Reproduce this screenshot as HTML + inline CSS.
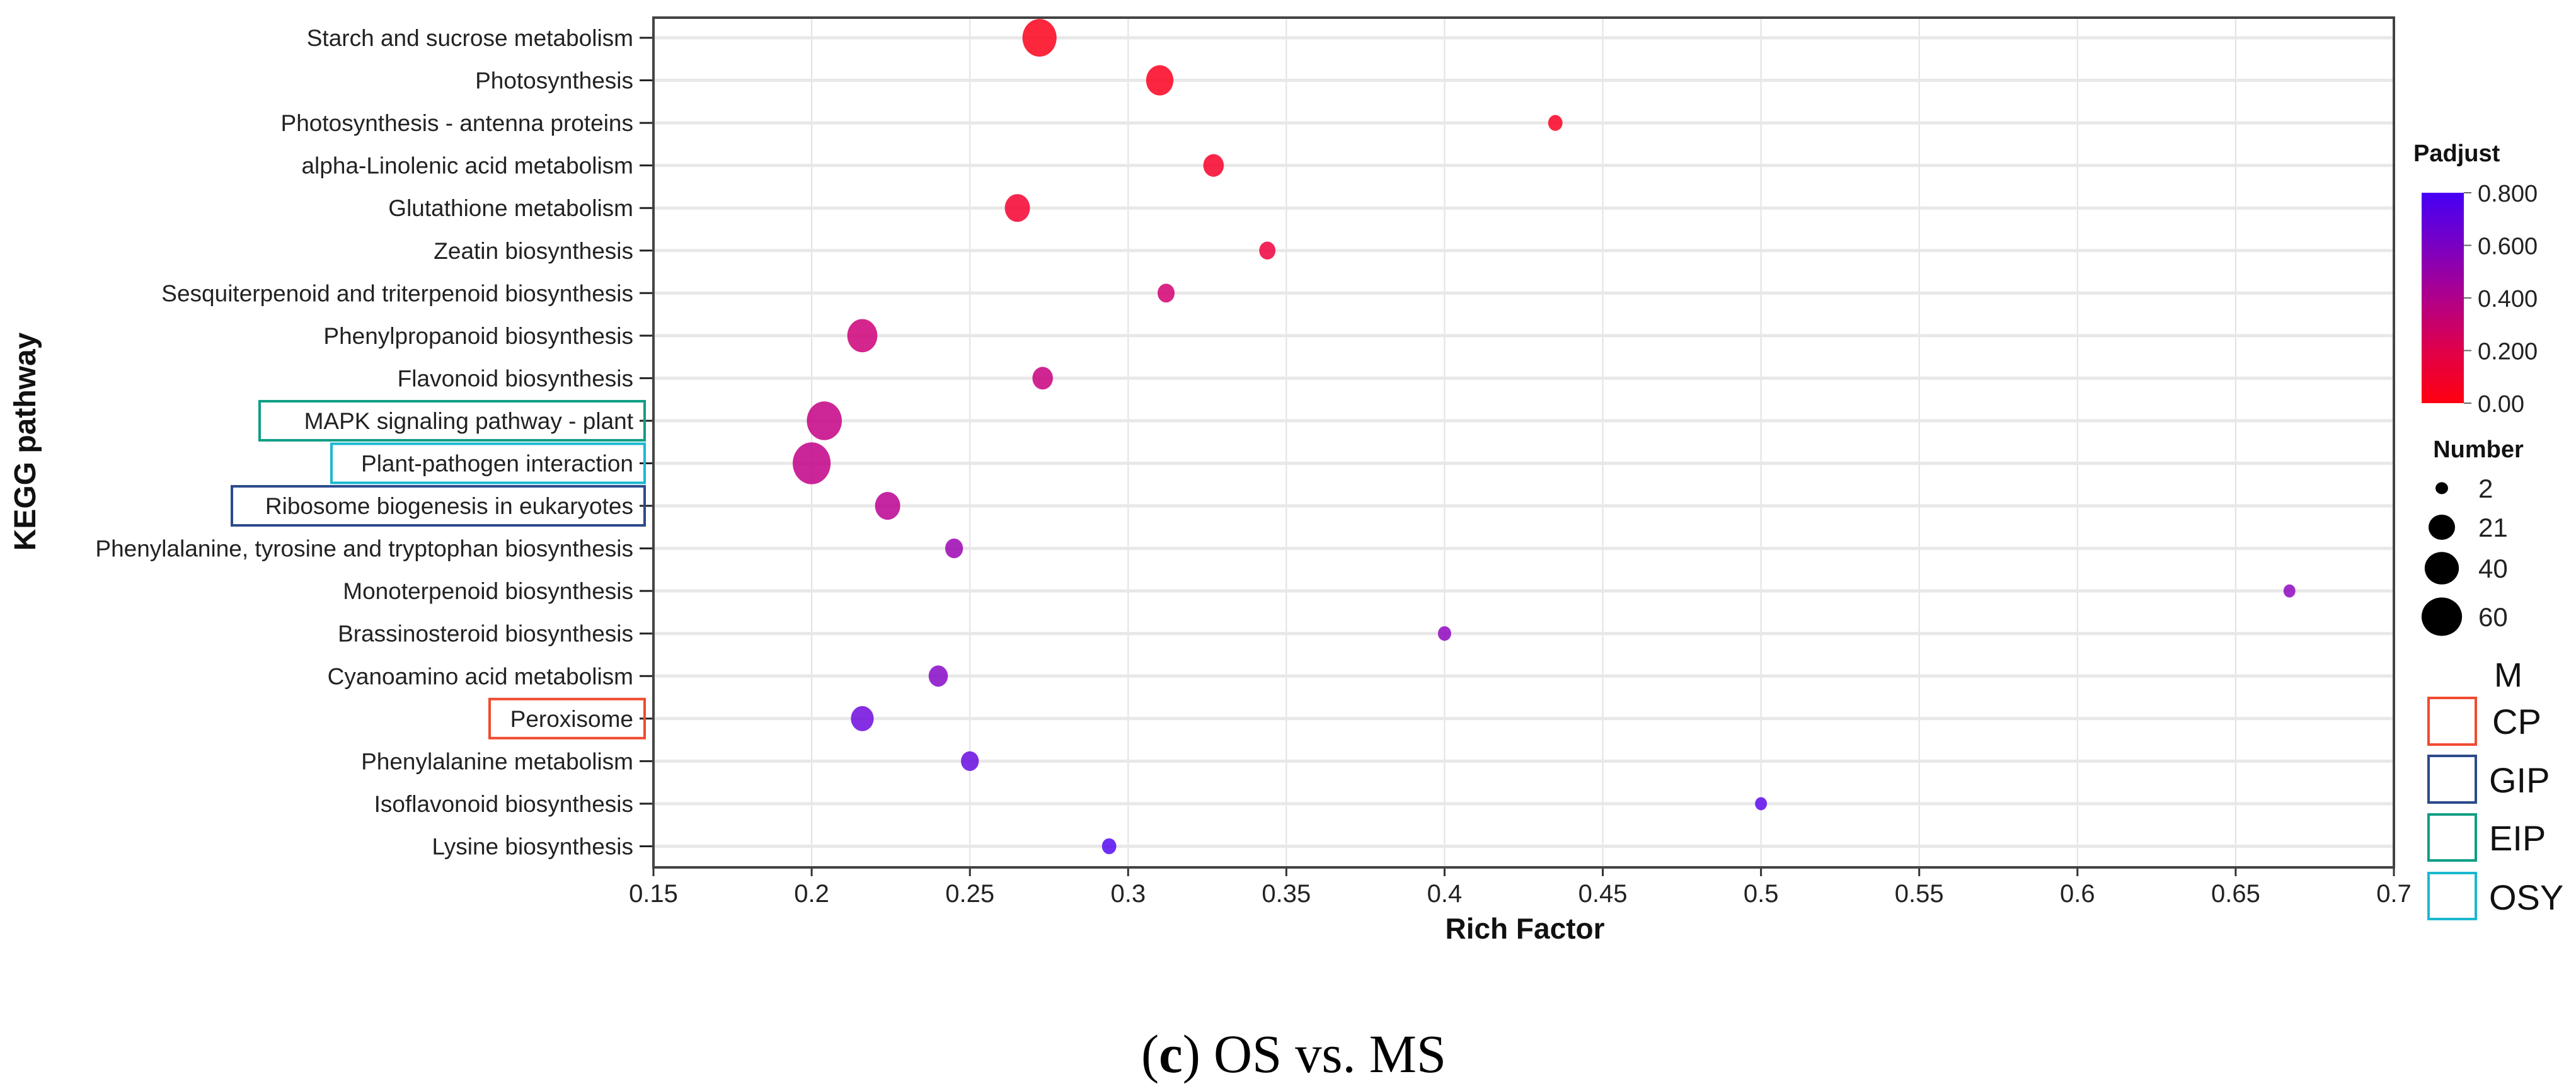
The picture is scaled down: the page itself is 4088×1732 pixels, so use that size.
<!DOCTYPE html>
<html><head><meta charset="utf-8"><style>
html,body{margin:0;padding:0;background:#fff;}
svg{display:block;}
text{font-family:"Liberation Sans",Arial,sans-serif;}
</style></head><body>
<svg id="chart" xmlns="http://www.w3.org/2000/svg" width="4088" height="1732" viewBox="0 0 4088 1732">
<defs>
<linearGradient id="padj" x1="0" y1="1" x2="0" y2="0">
<stop offset="0" stop-color="#ff0010"/>
<stop offset="0.25" stop-color="#e0004a"/>
<stop offset="0.5" stop-color="#b0008a"/>
<stop offset="0.75" stop-color="#7a00c4"/>
<stop offset="1" stop-color="#4600f5"/>
</linearGradient>
</defs>
<g id="grid"></g>
<g id="marks"></g>
<g id="axes"></g>
<text transform="translate(56,701) rotate(-90)" text-anchor="middle" font-size="48" font-weight="bold" fill="#111">KEGG pathway</text>
<text x="2420" y="1490" text-anchor="middle" font-size="46" font-weight="bold" fill="#111">Rich Factor</text>
<text x="1811" y="1702" style="font-family:'Liberation Serif',serif" font-size="86" fill="#000" textLength="484" lengthAdjust="spacingAndGlyphs">(<tspan font-weight="bold">c</tspan>) OS vs. MS</text>
<g>
<text x="3830" y="256" font-size="38" font-weight="bold" fill="#111">Padjust</text>
<rect x="3843" y="306" width="67" height="334" fill="url(#padj)"/>
<g id="cbticks"></g>
</g>
<g id="sizeleg">
<text x="3933" y="726" text-anchor="middle" font-size="38" font-weight="bold" fill="#111">Number</text>
</g>
<g>
<text x="3958" y="1090" font-size="54" fill="#111">M</text>
<rect x="3854" y="1108" width="75" height="74" fill="none" stroke="#f04a30" stroke-width="4"/>
<text x="3955" y="1165" font-size="56" fill="#111">CP</text>
<rect x="3854" y="1200" width="75" height="74" fill="none" stroke="#2b4a8a" stroke-width="4"/>
<text x="3950" y="1258" font-size="56" fill="#111">GIP</text>
<text x="3950" y="1350" font-size="56" fill="#111">EIP</text>
<rect x="3854" y="1293" width="75" height="73" fill="none" stroke="#0f9e85" stroke-width="4"/>
<rect x="3854" y="1386" width="75" height="73" fill="none" stroke="#1bb8d0" stroke-width="4"/>
<text x="3950" y="1444" font-size="56" fill="#111">OSY</text>
</g>
</svg>
<script>
const categories = ["Starch and sucrose metabolism","Photosynthesis","Photosynthesis - antenna proteins","alpha-Linolenic acid metabolism","Glutathione metabolism","Zeatin biosynthesis","Sesquiterpenoid and triterpenoid biosynthesis","Phenylpropanoid biosynthesis","Flavonoid biosynthesis","MAPK signaling pathway - plant","Plant-pathogen interaction","Ribosome biogenesis in eukaryotes","Phenylalanine, tyrosine and tryptophan biosynthesis","Monoterpenoid biosynthesis","Brassinosteroid biosynthesis","Cyanoamino acid metabolism","Peroxisome","Phenylalanine metabolism","Isoflavonoid biosynthesis","Lysine biosynthesis"];
const richFactor = [0.272,0.310,0.435,0.327,0.265,0.344,0.312,0.216,0.273,0.204,0.200,0.224,0.245,0.667,0.400,0.240,0.216,0.250,0.500,0.294];
const geneNumber = [45,26,4,12,21,6,7,33,12,48,58,21,8,2,3,10,16,8,2,4];
const padjust = [0.02,0.03,0.04,0.06,0.08,0.12,0.28,0.30,0.32,0.34,0.35,0.38,0.50,0.55,0.55,0.58,0.68,0.70,0.75,0.78];
const xTicks = [0.15,0.2,0.25,0.3,0.35,0.4,0.45,0.5,0.55,0.6,0.65,0.7];
const cbTicks = [0,0.2,0.4,0.6,0.8];
const cbLabels = ["0.00","0.200","0.400","0.600","0.800"];
const sizeLegend = [2,21,40,60];
const highlight = {"MAPK signaling pathway - plant":["#0f9e85",412],"Plant-pathogen interaction":["#1bb8d0",526],"Ribosome biogenesis in eukaryotes":["#2b4a8a",368],"Peroxisome":["#f04a30",777]};

const NS="http://www.w3.org/2000/svg";
const L=1037,R=3799,T=28,B=1377,Y0=60,DY=67.55;
const xs=v=>L+(v-0.15)/(0.7-0.15)*(R-L);
const ys=i=>Y0+i*DY;
const rs=n=>5+3.5*Math.sqrt(n);
function col(p){
  const stops=[[0,[255,0,20]],[0.2,[228,0,90]],[0.4,[182,0,150]],[0.6,[130,10,205]],[0.8,[80,10,245]]];
  for(let i=0;i<stops.length-1;i++){const a=stops[i],b=stops[i+1];
    if(p<=b[0]){const t=(p-a[0])/(b[0]-a[0]);return "rgb("+a[1].map((c,k)=>Math.round(c+(b[1][k]-c)*t)).join(",")+")";}}
  return "rgb(80,10,245)";
}
function mk(tag,attrs,parent){const e=document.createElementNS(NS,tag);for(const k in attrs)e.setAttribute(k,attrs[k]);parent.appendChild(e);return e;}
const grid=document.getElementById('grid'),marks=document.getElementById('marks'),axes=document.getElementById('axes');
xTicks.forEach((t,i)=>{
  const g=mk('line',{x1:xs(t),x2:xs(t),y1:T,y2:B,stroke:'#e2e2e2','stroke-width':2},grid);
  
  
  const tk=mk('line',{x1:xs(t),x2:xs(t),y1:B,y2:B+14,stroke:'#333','stroke-width':3},axes);
  
  
  const lb=mk('text',{x:xs(t),y:1432,'text-anchor':'middle','font-size':40,fill:'#222'},axes);
  
  
  lb.textContent=String(t);
});
categories.forEach((c,i)=>{
  const y=ys(i);
  const g=mk('line',{x1:L,x2:R,y1:y,y2:y,stroke:'#e8e8e8','stroke-width':5},grid);
  
  
  const tk=mk('line',{x1:L-22,x2:L,y1:y,y2:y,stroke:'#222','stroke-width':3},axes);
  
  
  const lb=mk('text',{x:1005,y:y+13,'text-anchor':'end','font-size':37,fill:'#222'},axes);
  
  
  lb.textContent=c;
  if(highlight[c]){
    const h=highlight[c];
    const bx=mk('rect',{x:h[1],y:y-31,width:1023-h[1],height:62,fill:'none',stroke:h[0],'stroke-width':4},axes);
    
    
  }
  const r=rs(geneNumber[i]);
  const e=mk('ellipse',{cx:xs(richFactor[i]),cy:y,rx:r*0.95,ry:r*1.05,fill:col(padjust[i]),'fill-opacity':0.85},marks);
  
  
});
const ax=mk('path',{d:`M${L} ${T} H${R} V${B} H${L} Z`,fill:'none',stroke:'#444','stroke-width':4},axes);


const cbg=document.getElementById('cbticks');
cbTicks.forEach((v,i)=>{
  const y=640-(v/0.8)*334;
  const tk=mk('line',{x1:3910,x2:3922,y1:y,y2:y,stroke:'#666','stroke-width':2},cbg);
  
  
  const lb=mk('text',{x:3932,y:y+14,'font-size':38,fill:'#222'},cbg);
  
  
  lb.textContent=cbLabels[i];
});
const sl=document.getElementById('sizeleg');
const slY=[775,837,902,979];
sizeLegend.forEach((n,i)=>{
  const r=rs(n);
  const c=mk('ellipse',{cx:3875,cy:slY[i],rx:r,ry:r*0.95,fill:'#000'},sl);
  
  
  const lb=mk('text',{x:3933,y:slY[i]+15,'font-size':42,fill:'#222'},sl);
  
  
  lb.textContent=String(n);
});
</script>
</body></html>
